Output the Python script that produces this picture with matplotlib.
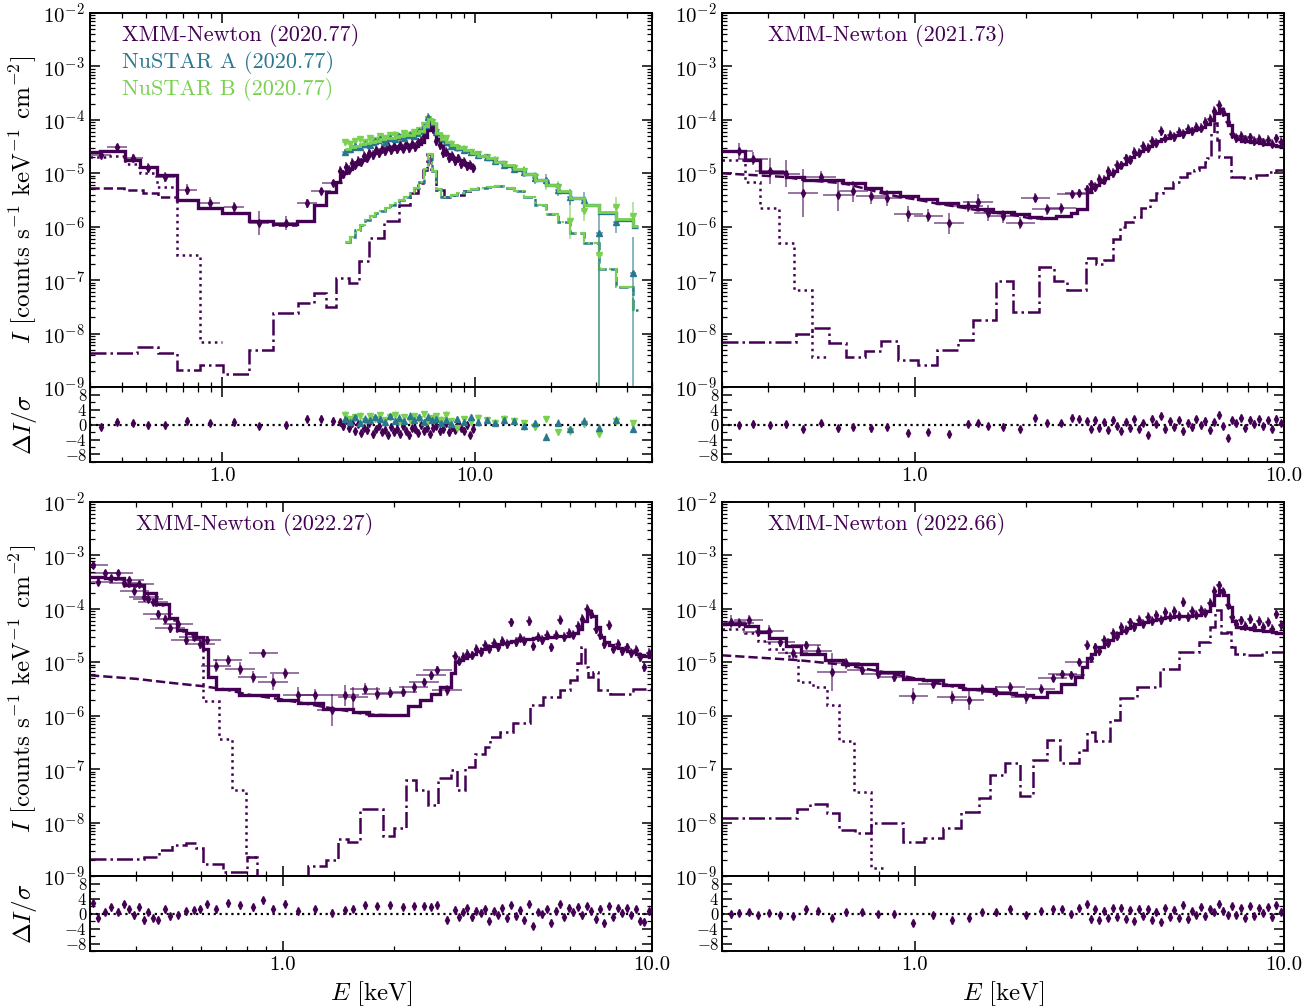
import numpy as np
import matplotlib.pyplot as plt
from matplotlib.ticker import LogLocator, FuncFormatter, NullFormatter, MultipleLocator, FixedLocator
from matplotlib.colors import to_rgba

plt.rcParams['font.family'] = 'serif'
plt.rcParams['font.serif'] = ['cmr10']
plt.rcParams['mathtext.fontset'] = 'cm'
plt.rcParams['axes.formatter.use_mathtext'] = True

# =====================================================
# Data
# =====================================================

c_xmm = '#440154'
c_nua = '#2a788e'
c_nub = '#7ad151'

# shared XMM energy grid for the dense part of the spectra (keV)
xmm_dense_e = [2.92, 3.0, 3.08, 3.16, 3.25, 3.34, 3.43, 3.52, 3.62, 3.72, 3.82, 3.93, 4.04, 4.15, 4.27,
               4.39, 4.51, 4.64, 4.77, 4.9, 5.04, 5.18, 5.33, 5.48, 5.63, 5.79, 5.95, 6.12, 6.29, 6.47,
               6.65, 6.84, 7.03, 7.23, 7.43, 7.64, 7.86, 8.08, 8.31, 8.54, 8.78, 9.03, 9.28, 9.54, 9.81]

# ---------- 2020.77 (XMM + NuSTAR) ----------
tl_sp_e = [0.331, 0.383, 0.443, 0.509, 0.594, 0.726, 0.896, 1.116, 1.40, 1.78, 2.17, 2.45, 2.73]
tl_sp_i = [2.2e-5, 3.1e-5, 1.9e-5, 1.26e-5, 8.5e-6, 4.9e-6, 2.8e-6, 2.3e-6, 1.17e-6, 1.17e-6, 2.75e-6, 4.7e-6, 6.6e-6]
tl_sp_err = [0.08, 0.06, 0.08, 0.1, 0.1, 0.1, 0.1, 0.1, 0.23, 0.13, 0.08, 0.06, 0.05]
tl_sp_res = [-0.6, 0.8, 0.4, -0.2, -0.2, 1.0, 0.4, 0.6, -0.4, 0.0, 1.6, 1.6, 1.0]
tl_de_i = [1.1e-5, 9.5e-6, 1.3e-5, 1.15e-5, 1.55e-5, 1.4e-5, 1.7e-5, 1.6e-5, 2.1e-5, 1.9e-5, 2.4e-5, 2.2e-5,
           2.7e-5, 2.4e-5, 2.9e-5, 2.6e-5, 3.2e-5, 2.7e-5, 3.3e-5, 2.8e-5, 3.4e-5, 2.9e-5, 3.5e-5, 3.0e-5,
           3.6e-5, 3.1e-5, 3.8e-5, 4.1e-5, 5.0e-5, 7.0e-5, 9.0e-5, 6.8e-5, 4.0e-5, 3.4e-5, 2.4e-5, 2.5e-5,
           1.9e-5, 2.1e-5, 1.7e-5, 1.9e-5, 1.5e-5, 1.65e-5, 1.35e-5, 1.45e-5, 1.25e-5]
tl_de_res = [0.8, -0.5, 1.2, -1.0, 0.5, -1.8, 0.2, -2.2, -0.8, -1.5, 0.4, -2.6, -1.2, -0.3, -2.0, -1.4, -2.8,
             -0.6, -1.9, -1.1, -2.4, -0.4, -1.6, -2.9, -0.9, -1.3, -2.2, -0.2, -1.7, -0.8, -2.5, -1.0, -0.3,
             -1.8, -1.2, 0.3, -2.1, -0.7, -1.4, 0.5, -0.9, -1.6, -0.2, -2.8, -1.1]
tl_mod_lo_e = [0.30, 0.33, 0.412, 0.473, 0.552, 0.663, 0.80, 1.0, 1.27, 1.59, 1.98, 2.30, 2.58, 2.81]
tl_mod_lo_v = [2.5e-5, 2.6e-5, 1.8e-5, 1.3e-5, 9.3e-6, 3.2e-6, 2.2e-6, 1.8e-6, 1.27e-6, 1.12e-6, 1.3e-6,
               2.6e-6, 4.5e-6, 6.9e-6]
tl_mod_de_v = [9.0e-6, 1.0e-5, 1.1e-5, 1.2e-5, 1.35e-5, 1.5e-5, 1.65e-5, 1.8e-5, 1.95e-5, 2.1e-5, 2.25e-5,
               2.4e-5, 2.5e-5, 2.6e-5, 2.7e-5, 2.8e-5, 2.85e-5, 2.9e-5, 2.95e-5, 3.0e-5, 3.05e-5, 3.1e-5,
               3.15e-5, 3.2e-5, 3.25e-5, 3.3e-5, 3.5e-5, 3.9e-5, 4.8e-5, 6.5e-5, 8.5e-5, 6.5e-5, 4.3e-5,
               3.2e-5, 2.6e-5, 2.3e-5, 2.1e-5, 1.95e-5, 1.85e-5, 1.75e-5, 1.65e-5, 1.55e-5, 1.45e-5, 1.38e-5, 1.3e-5]
tl_dot_e = [0.30, 0.347, 0.412, 0.473, 0.552, 0.663, 0.818, 1.0]
tl_dot_v = [2.0e-5, 2.1e-5, 1.5e-5, 1.0e-5, 5.5e-6, 3.0e-7, 7.0e-9, 1e-11]
tl_dash_e = [0.30, 0.41, 0.486, 0.557, 0.663, 0.80, 1.0, 1.27, 1.59, 1.98]
tl_dash_v = [5.2e-6, 4.9e-6, 4.3e-6, 3.6e-6, 3.1e-6, 2.2e-6, 1.8e-6, 1.27e-6, 1.1e-6, 1.0e-6]
tl_dd_e = [0.30, 0.46, 0.557, 0.66, 0.818, 1.01, 1.27, 1.59, 2.0, 2.3, 2.56, 2.81, 3.16, 3.46, 3.8, 4.36,
           5.0, 5.5, 5.94, 6.2, 6.45, 6.7, 7.0, 7.5, 8.2, 9.0]
tl_dd_v = [4.3e-9, 5.6e-9, 4.3e-9, 2.1e-9, 2.6e-9, 1.75e-9, 4.9e-9, 2.4e-8, 3.7e-8, 5.7e-8, 3.2e-8, 1.1e-7,
           9e-8, 2.3e-7, 6.2e-7, 1.3e-6, 2.5e-6, 4.2e-6, 6.6e-6, 1.15e-5, 2.3e-5, 1.1e-5, 4.9e-6, 3.6e-6,
           4.0e-6, 4.6e-6]

nu_e = [3.05, 3.2, 3.35, 3.5, 3.66, 3.83, 4.0, 4.2, 4.4, 4.6, 4.8, 5.0, 5.25, 5.5, 5.75, 6.0, 6.25, 6.5,
        6.75, 7.0, 7.3, 7.65, 8.0, 8.5, 9.0, 9.6, 10.3, 11.1, 12.0, 13.0, 14.2, 15.6, 17.2, 19.0, 21.2,
        23.8, 27.0, 31.0, 36.0, 42.0]
nua_i = [2.5e-5, 2.9e-5, 3.3e-5, 3.1e-5, 3.6e-5, 3.4e-5, 4.0e-5, 4.3e-5, 3.9e-5, 4.6e-5, 4.3e-5, 4.9e-5,
         4.6e-5, 5.3e-5, 5.0e-5, 6.3e-5, 7.2e-5, 1.15e-4, 8.0e-5, 5.8e-5, 4.3e-5, 3.8e-5, 3.2e-5, 3.1e-5,
         2.7e-5, 2.5e-5, 2.2e-5, 2.0e-5, 1.7e-5, 1.4e-5, 1.2e-5, 1.05e-5, 8.0e-6, 7.5e-6, 4.9e-6, 3.6e-6,
         3.2e-6, 7.6e-7, 1.2e-6, 1.35e-7]
nua_lo = [0.06] * 30 + [0.08, 0.1, 0.1, 0.12, 0.12, 0.15, 0.15, 3.0, 0.2, 3.0]
nua_hi = [0.06] * 30 + [0.08, 0.1, 0.1, 0.12, 0.12, 0.15, 0.15, 0.37, 0.2, 0.68]
nua_mod = [2.6e-5, 2.8e-5, 3.0e-5, 3.2e-5, 3.4e-5, 3.6e-5, 3.8e-5, 4.0e-5, 4.2e-5, 4.3e-5, 4.5e-5, 4.6e-5,
           4.8e-5, 5.0e-5, 5.3e-5, 5.9e-5, 7.5e-5, 1.0e-4, 8.5e-5, 5.5e-5, 4.2e-5, 3.6e-5, 3.3e-5, 2.9e-5,
           2.6e-5, 2.35e-5, 2.1e-5, 1.85e-5, 1.6e-5, 1.35e-5, 1.15e-5, 9.5e-6, 7.5e-6, 6.0e-6, 4.5e-6,
           3.4e-6, 2.5e-6, 1.8e-6, 1.35e-6, 1.0e-6]
nua_res = [1.5, 0.8, 1.9, 0.5, 1.6, 1.2, 2.0, 1.4, 0.6, 2.2, 1.0, 1.8, 0.9, 2.4, 1.3, 1.9, 0.7, 2.1, 1.2,
           1.6, 0.5, 1.1, 0.2, 1.4, 0.8, 1.9, 0.6, 1.2, 0.4, 1.1, 0.9, -0.5, 0.3, -3.2, 0.5, -1.2, 1.0,
           -0.8, 1.3, -1.2]
nub_i = [3.8e-5, 3.6e-5, 4.0e-5, 4.4e-5, 3.9e-5, 4.6e-5, 4.2e-5, 4.9e-5, 4.6e-5, 5.1e-5, 5.3e-5, 4.8e-5,
         5.6e-5, 5.2e-5, 6.0e-5, 6.5e-5, 8.0e-5, 1.05e-4, 9.0e-5, 6.0e-5, 4.6e-5, 4.5e-5, 3.6e-5, 3.0e-5,
         2.9e-5, 2.5e-5, 2.3e-5, 2.0e-5, 1.8e-5, 1.5e-5, 1.25e-5, 1.1e-5, 8.5e-6, 6.5e-6, 5.5e-6, 1.3e-6,
         2.0e-6, 3.0e-7, 2.3e-6, 1.6e-6]
nub_lo = [0.06] * 30 + [0.08, 0.1, 0.1, 0.12, 0.12, 0.35, 0.2, 3.0, 0.2, 0.25]
nub_hi = [0.06] * 30 + [0.08, 0.1, 0.1, 0.12, 0.12, 0.35, 0.2, 0.45, 0.2, 0.25]
nub_mod = [2.9e-5, 3.1e-5, 3.3e-5, 3.5e-5, 3.7e-5, 3.9e-5, 4.1e-5, 4.3e-5, 4.5e-5, 4.6e-5, 4.8e-5, 4.9e-5,
           5.1e-5, 5.3e-5, 5.6e-5, 6.2e-5, 7.8e-5, 1.02e-4, 8.7e-5, 5.7e-5, 4.4e-5, 3.8e-5, 3.4e-5, 3.0e-5,
           2.7e-5, 2.4e-5, 2.15e-5, 1.9e-5, 1.65e-5, 1.4e-5, 1.18e-5, 9.7e-6, 7.6e-6, 6.1e-6, 4.6e-6,
           3.5e-6, 2.6e-6, 1.85e-6, 1.4e-6, 1.05e-6]
nub_res = [2.6, 1.4, 2.0, 2.4, 1.0, 2.2, 1.6, 2.5, 1.2, 2.0, 2.6, 0.8, 1.9, 1.1, 2.3, 1.5, 2.8, 1.0, 1.7,
           2.2, 1.3, 2.6, 0.9, -1.0, 1.5, 0.6, 1.8, 1.2, 0.5, 1.6, 1.0, 0.3, -0.6, 1.5, -2.0, -1.8, 0.2,
           -2.5, 0.9, 0.3]
nu_comp = [5.1e-7, 6.5e-7, 8.5e-7, 1.1e-6, 1.35e-6, 1.6e-6, 1.8e-6, 2.0e-6, 2.2e-6, 2.5e-6, 2.8e-6, 3.1e-6,
           3.6e-6, 4.3e-6, 5.3e-6, 7e-6, 1.2e-5, 2.3e-5, 1.1e-5, 5.0e-6, 3.6e-6, 3.6e-6, 3.9e-6, 4.3e-6,
           4.7e-6, 5.0e-6, 5.3e-6, 5.6e-6, 5.7e-6, 5.4e-6, 4.6e-6, 3.6e-6, 2.6e-6, 1.7e-6, 1.2e-6, 7.5e-7,
           5.0e-7, 1.6e-7, 7.4e-8, 2.8e-8]

# ---------- 2021.73 ----------
tr_sp_e = [0.333, 0.364, 0.404, 0.446, 0.497, 0.556, 0.617, 0.681, 0.759, 0.842, 0.96, 1.087, 1.236, 1.39,
           1.48, 1.58, 1.73, 1.93, 2.12, 2.28, 2.49, 2.66, 2.79]
tr_sp_i = [2.6e-5, 1.86e-5, 1.1e-5, 9.8e-6, 4.3e-6, 8.7e-6, 4.0e-6, 4.6e-6, 3.7e-6, 3.5e-6, 1.74e-6, 1.6e-6,
           1.15e-6, 2.4e-6, 2.9e-6, 1.8e-6, 1.56e-6, 1.17e-6, 3.5e-6, 2.1e-6, 2.2e-6, 4.1e-6, 4.3e-6]
tr_sp_err = [0.15, 0.12, 0.25, 0.25, 0.45, 0.1, 0.3, 0.2, 0.15, 0.15, 0.15, 0.12, 0.2, 0.1, 0.15, 0.15,
             0.12, 0.12, 0.08, 0.1, 0.1, 0.07, 0.07]
tr_sp_res = [-0.2, 0.2, -0.1, 0.1, -1.2, 0.4, -1.0, -0.6, -1.0, -0.6, -2.2, -2.0, -2.4, 0.2, 0.4, -0.4,
             -0.6, -1.2, 1.8, 0.4, 0.4, 1.8, 1.6]
tr_de_i = [5.0e-6, 6.2e-6, 5.6e-6, 7.8e-6, 7.4e-6, 1.1e-5, 1.0e-5, 1.45e-5, 1.4e-5, 1.9e-5, 1.8e-5, 2.5e-5,
           2.4e-5, 3.3e-5, 3.0e-5, 4.0e-5, 3.7e-5, 6.2e-5, 4.5e-5, 5.3e-5, 4.8e-5, 6.0e-5, 5.5e-5, 6.8e-5,
           6.1e-5, 7.5e-5, 7.0e-5, 9.0e-5, 1.05e-4, 1.45e-4, 1.9e-4, 1.4e-4, 9.0e-5, 5.4e-5, 4.6e-5, 5.0e-5,
           4.3e-5, 4.7e-5, 4.0e-5, 4.4e-5, 3.8e-5, 4.2e-5, 3.6e-5, 4.5e-5, 3.9e-5]
tr_de_res = [0.9, -1.2, 1.1, -0.8, 0.6, -1.4, 1.3, -0.3, -1.6, 0.8, -0.9, 1.5, -1.1, 0.4, -2.8, 1.6, 0.2,
             2.4, -1.3, 0.9, -0.6, 1.2, -1.8, 0.5, -0.7, 1.4, -0.2, 1.0, -1.5, 0.7, 2.6, -0.4, -3.5, 1.1,
             0.3, 1.8, -0.8, 1.3, 0.2, 1.5, -0.5, 1.1, -1.2, 1.6, 0.4]
tr_mod_lo_e = [0.30, 0.347, 0.38, 0.446, 0.50, 0.64, 0.73, 0.81, 0.91, 1.02, 1.15, 1.31, 1.47, 1.63, 1.86,
               2.04, 2.2, 2.41, 2.64, 2.75]
tr_mod_lo_v = [2.6e-5, 1.75e-5, 1.05e-5, 8.7e-6, 7.6e-6, 6.6e-6, 5.3e-6, 4.4e-6, 3.7e-6, 3.3e-6, 2.8e-6,
               2.4e-6, 2.1e-6, 1.9e-6, 1.7e-6, 1.5e-6, 1.45e-6, 1.6e-6, 1.8e-6, 2.1e-6]
tr_mod_de_v = [4.5e-6, 5.2e-6, 6.0e-6, 7.0e-6, 8.2e-6, 9.6e-6, 1.1e-5, 1.3e-5, 1.5e-5, 1.7e-5, 2.0e-5,
               2.3e-5, 2.6e-5, 2.9e-5, 3.2e-5, 3.6e-5, 4.0e-5, 4.3e-5, 4.6e-5, 4.9e-5, 5.2e-5, 5.5e-5,
               5.8e-5, 6.1e-5, 6.4e-5, 6.8e-5, 7.4e-5, 8.3e-5, 1.0e-4, 1.35e-4, 1.6e-4, 1.3e-4, 8.0e-5,
               5.0e-5, 4.3e-5, 4.1e-5, 4.0e-5, 3.9e-5, 3.8e-5, 3.7e-5, 3.6e-5, 3.5e-5, 3.4e-5, 3.3e-5, 3.2e-5]
tr_dot_e = [0.30, 0.347, 0.381, 0.428, 0.469, 0.527, 0.585]
tr_dot_v = [1.8e-5, 7.0e-6, 2.2e-6, 5.0e-7, 6.6e-8, 3.7e-9, 1e-11]
tr_dash_e = [0.30, 0.45, 0.50, 0.64, 0.73, 0.81, 0.91, 1.02, 1.15, 1.31, 1.47, 1.63, 1.86, 2.04, 2.2]
tr_dash_v = [1.0e-5, 8.5e-6, 7.5e-6, 6.5e-6, 5.2e-6, 4.3e-6, 3.6e-6, 3.2e-6, 2.7e-6, 2.35e-6, 2.05e-6,
             1.85e-6, 1.65e-6, 1.45e-6, 1.42e-6]
tr_dd_e = [0.30, 0.475, 0.527, 0.585, 0.649, 0.73, 0.81, 0.898, 1.02, 1.15, 1.31, 1.44, 1.66, 1.84, 2.17,
           2.38, 2.58, 2.90, 3.09, 3.25, 3.45, 3.59, 3.7, 3.9, 4.1, 4.33, 4.5, 4.7, 5.0, 5.22, 5.45, 5.7,
           5.9, 6.1, 6.2, 6.33, 6.45, 6.57, 6.65, 7.05, 7.2, 7.8, 8.4, 9.0, 9.5]
tr_dd_v = [6.9e-9, 1.0e-8, 1.26e-8, 6.7e-9, 3.7e-9, 4.7e-9, 7.4e-9, 3.2e-9, 2.6e-9, 5e-9, 7.7e-9, 1.8e-8,
           9.5e-8, 2.5e-8, 1.8e-7, 9.5e-8, 6.6e-8, 2.6e-7, 2.0e-7, 2.4e-7, 6.0e-7, 9.8e-7, 1.2e-6, 1.5e-6,
           2.2e-6, 3.2e-6, 4.2e-6, 5.2e-6, 6.8e-6, 8.5e-6, 1.0e-5, 1.15e-5, 1.3e-5, 1.6e-5, 1.9e-5, 5.6e-5,
           8.7e-5, 4.2e-5, 2.0e-5, 2.0e-5, 8.5e-6, 8.1e-6, 9.3e-6, 1.05e-5, 1.15e-5]

# ---------- 2022.27 ----------
bl_sp_e = [0.306, 0.316, 0.330, 0.342, 0.358, 0.370, 0.383, 0.396, 0.408, 0.420, 0.431, 0.445, 0.459,
           0.478, 0.494, 0.520, 0.545, 0.574, 0.597, 0.621, 0.658, 0.708, 0.766, 0.828, 0.885, 0.940,
           1.01, 1.10, 1.22, 1.36, 1.47, 1.55, 1.67, 1.80, 1.95, 2.11, 2.26, 2.41, 2.52, 2.62, 2.78]
bl_sp_i = [6.5e-4, 3.2e-4, 4.7e-4, 3.8e-4, 4.7e-4, 3.1e-4, 3.4e-4, 2.2e-4, 2.95e-4, 1.66e-4, 1.55e-4,
           1.34e-4, 8.1e-5, 6.5e-5, 4.3e-5, 5.3e-5, 2.6e-5, 2.95e-5, 2.2e-5, 2.6e-5, 8.7e-6, 1.1e-5, 7.6e-6,
           5.3e-6, 1.5e-5, 4.3e-6, 6.2e-6, 2.4e-6, 2.4e-6, 1.26e-6, 2.4e-6, 2.2e-6, 3.2e-6, 2.6e-6, 2.7e-6,
           2.8e-6, 3.4e-6, 4.3e-6, 5.7e-6, 7.3e-6, 3.0e-6]
bl_sp_err = [0.06, 0.06, 0.05, 0.05, 0.05, 0.06, 0.05, 0.06, 0.05, 0.06, 0.06, 0.06, 0.07, 0.07, 0.08,
             0.07, 0.1, 0.08, 0.1, 0.08, 0.12, 0.1, 0.12, 0.12, 0.08, 0.15, 0.1, 0.15, 0.12, 0.3, 0.2,
             0.2, 0.1, 0.12, 0.1, 0.1, 0.1, 0.08, 0.08, 0.07, 0.1]
bl_sp_res = [2.9, -1.2, 0.4, 1.7, 0.5, 2.5, 1.1, -0.5, 1.8, -1.8, 0.4, -1.2, -1.6, 1.1, -0.7, -0.3, 0.6,
             0.9, 1.1, 2.5, 1.1, 2.7, 2.2, 1.7, 3.5, 1.3, 2.6, 0.6, 1.1, 0.2, 0.9, 1.3, 2.2, 2.0, 2.2,
             1.8, 2.0, 2.0, 1.8, 2.2, -1.6]
bl_de_i = [1.3e-5, 1.05e-5, 1.25e-5, 1.45e-5, 1.35e-5, 1.75e-5, 1.55e-5, 2.1e-5, 1.8e-5, 2.3e-5, 1.9e-5,
           2.5e-5, 2.2e-5, 5.6e-5, 2.4e-5, 2.9e-5, 2.5e-5, 6.0e-5, 2.0e-5, 3.0e-5, 2.6e-5, 3.2e-5, 1.9e-5,
           3.3e-5, 6.3e-5, 3.0e-5, 3.6e-5, 3.3e-5, 4.8e-5, 6.5e-5, 1.0e-4, 8.0e-5, 4.2e-5, 3.2e-5, 2.2e-5,
           5.0e-5, 1.8e-5, 2.2e-5, 1.6e-5, 1.9e-5, 1.5e-5, 1.7e-5, 1.25e-5, 8.1e-6, 1.5e-5]
bl_de_res = [1.0, -0.8, 0.5, 1.5, -1.0, 0.8, 0.2, 1.2, -2.0, 0.6, -0.4, 1.4, -1.3, 2.3, -0.6, 0.9, -1.8,
             2.6, -3.3, 0.4, -0.2, 1.2, -2.4, 0.8, 2.5, -0.9, 1.6, 0.3, 1.8, -0.5, 2.0, 0.7, -1.5, 1.3,
             -2.6, 1.9, -0.8, 1.5, 0.2, 1.4, -0.4, 1.2, -1.9, -2.2, 0.6]
bl_mod_lo_e = [0.30, 0.33, 0.37, 0.42, 0.454, 0.49, 0.515, 0.545, 0.58, 0.606, 0.626, 0.66, 0.76, 0.97,
               1.1, 1.28, 1.55, 1.71, 2.18, 2.35, 2.52, 2.66, 2.85]
bl_mod_lo_v = [4.0e-4, 3.7e-4, 2.75e-4, 2.0e-4, 1.25e-4, 6.6e-5, 4.0e-5, 3.5e-5, 3.0e-5, 1.8e-5, 5.4e-6,
               3.2e-6, 2.4e-6, 1.95e-6, 1.7e-6, 1.35e-6, 1.17e-6, 1.02e-6, 1.5e-6, 1.95e-6, 2.6e-6, 3.5e-6,
               6.2e-6]
bl_mod_de_v = [1.0e-5, 1.1e-5, 1.2e-5, 1.3e-5, 1.45e-5, 1.6e-5, 1.75e-5, 1.9e-5, 2.0e-5, 2.1e-5, 2.2e-5,
               2.3e-5, 2.4e-5, 2.5e-5, 2.6e-5, 2.65e-5, 2.7e-5, 2.75e-5, 2.8e-5, 2.85e-5, 2.9e-5, 2.95e-5,
               3.0e-5, 3.05e-5, 3.1e-5, 3.15e-5, 3.25e-5, 3.5e-5, 4.2e-5, 6.0e-5, 9.0e-5, 7.5e-5, 4.5e-5,
               3.0e-5, 2.4e-5, 2.1e-5, 1.95e-5, 1.85e-5, 1.75e-5, 1.65e-5, 1.55e-5, 1.45e-5, 1.38e-5,
               1.3e-5, 1.25e-5]
bl_dot_e = [0.30, 0.33, 0.37, 0.42, 0.454, 0.49, 0.515, 0.545, 0.58, 0.607, 0.671, 0.726, 0.796, 0.85]
bl_dot_v = [3.9e-4, 3.6e-4, 2.7e-4, 1.95e-4, 1.2e-4, 6.3e-5, 3.8e-5, 3.3e-5, 2.8e-5, 1.9e-6, 3.7e-7,
            4.0e-8, 2.3e-9, 1e-11]
bl_dash_e = [0.30, 0.4, 0.5, 0.6, 0.7, 0.8, 1.0, 1.3, 1.7, 2.18]
bl_dash_v = [5.7e-6, 4.9e-6, 4.1e-6, 3.6e-6, 3.1e-6, 2.5e-6, 2.0e-6, 1.45e-6, 1.05e-6, 1.0e-6]
bl_dd_e = [0.30, 0.42, 0.46, 0.50, 0.545, 0.58, 0.606, 0.69, 0.80, 0.85, 1.17, 1.31, 1.41, 1.5, 1.62,
           1.87, 2.0, 2.16, 2.29, 2.47, 2.63, 2.86, 2.97, 3.12, 3.31, 3.53, 3.64, 3.87, 4.2, 4.67, 5.07,
           5.63, 6.0, 6.27, 6.43, 6.58, 6.7, 6.92, 7.14, 7.69, 8.9]
bl_dd_v = [2.1e-9, 2.3e-9, 3.1e-9, 3.8e-9, 4.1e-9, 3.3e-9, 1.7e-9, 1.2e-9, 2.3e-9, 1e-10, 1.55e-9, 2.0e-9,
           5.0e-9, 4.3e-9, 1.8e-8, 5.6e-9, 7.8e-9, 6.2e-8, 4.1e-8, 2.1e-8, 6.8e-8, 9.6e-8, 4.1e-8, 1.1e-7,
           1.95e-7, 2.6e-7, 4.0e-7, 4.9e-7, 7.2e-7, 1.6e-6, 2.2e-6, 3.0e-6, 4.7e-6, 9.6e-6, 1.9e-5,
           8.2e-6, 5.3e-6, 6.6e-6, 3.0e-6, 2.5e-6, 3.1e-6]

# ---------- 2022.66 ----------
br_sp_e = [0.318, 0.334, 0.354, 0.376, 0.403, 0.432, 0.467, 0.507, 0.545, 0.596, 0.649, 0.718, 0.793,
           0.879, 0.99, 1.12, 1.26, 1.40, 1.52, 1.66, 1.81, 2.0, 2.19, 2.36, 2.51, 2.64, 2.79]
br_sp_i = [5.7e-5, 5.4e-5, 6.1e-5, 3.7e-5, 3.9e-5, 2.4e-5, 1.5e-5, 2.1e-5, 1.66e-5, 6.6e-6, 9.6e-6, 7.3e-6,
           6.1e-6, 5.3e-6, 2.3e-6, 4.0e-6, 2.2e-6, 2.0e-6, 3.1e-6, 2.8e-6, 3.5e-6, 2.2e-6, 3.2e-6, 5.1e-6,
           6.1e-6, 5.8e-6, 1.02e-5]
br_sp_err = [0.12, 0.1, 0.1, 0.1, 0.1, 0.1, 0.12, 0.08, 0.1, 0.35, 0.1, 0.1, 0.1, 0.1, 0.15, 0.08, 0.12,
             0.2, 0.1, 0.1, 0.08, 0.12, 0.08, 0.07, 0.07, 0.07, 0.07]
br_sp_res = [-0.2, 0.2, 0.4, -0.5, 0.2, -0.5, -0.6, 1.1, 0.7, -1.1, 0.3, 0.3, -0.2, 0.0, -2.4, -0.5, -1.8,
             -1.1, 0.3, 0.3, 1.1, -0.5, 0.7, 1.1, 1.1, -0.2, 1.4]
br_de_i = [2.1e-5, 1.2e-5, 1.9e-5, 1.6e-5, 2.6e-5, 2.3e-5, 3.5e-5, 3.1e-5, 4.6e-5, 4.0e-5, 5.6e-5, 4.6e-5,
           6.3e-5, 5.3e-5, 7.1e-5, 6.0e-5, 7.8e-5, 6.2e-5, 8.7e-5, 7.0e-5, 9.0e-5, 7.4e-5, 1.35e-4, 7.0e-5,
           9.3e-5, 7.8e-5, 9.6e-5, 8.5e-5, 1.3e-4, 2.2e-4, 2.75e-4, 2.1e-4, 1.2e-4, 7.0e-5, 5.3e-5, 6.1e-5,
           4.8e-5, 6.5e-5, 4.5e-5, 6.0e-5, 4.6e-5, 5.7e-5, 4.2e-5, 8.0e-5, 5.0e-5]
br_de_res = [2.5, -1.5, 1.2, -1.8, 0.8, -1.2, 1.4, -0.9, 1.6, -1.4, 0.9, -2.0, 1.3, -0.6, 1.1, -1.7, 0.5,
             -2.3, 1.5, -0.8, 1.0, -1.1, 2.4, -1.5, 0.7, -0.4, 1.8, -0.7, 1.2, 0.3, 2.6, 0.8, -0.5, 1.9,
             -0.3, 1.4, -1.2, 2.0, -0.6, 1.5, 0.2, 1.7, -1.0, 2.2, 0.5]
br_mod_lo_e = [0.30, 0.347, 0.376, 0.403, 0.447, 0.49, 0.57, 0.64, 0.79, 0.93, 1.05, 1.19, 1.35, 1.64,
               1.88, 2.09, 2.28, 2.48, 2.72, 2.84]
br_mod_lo_v = [5.3e-5, 4.7e-5, 3.7e-5, 2.9e-5, 2.0e-5, 1.4e-5, 1.1e-5, 9.1e-6, 6.6e-6, 4.9e-6, 4.6e-6,
               3.7e-6, 3.2e-6, 2.7e-6, 2.4e-6, 2.2e-6, 2.8e-6, 4.0e-6, 5.4e-6, 8.1e-6]
br_mod_de_v = [1.2e-5, 1.4e-5, 1.65e-5, 1.9e-5, 2.2e-5, 2.6e-5, 3.0e-5, 3.5e-5, 3.9e-5, 4.3e-5, 4.7e-5,
               5.1e-5, 5.4e-5, 5.7e-5, 6.0e-5, 6.3e-5, 6.5e-5, 6.7e-5, 6.9e-5, 7.0e-5, 7.2e-5, 7.3e-5,
               7.4e-5, 7.5e-5, 7.6e-5, 7.8e-5, 8.2e-5, 9.2e-5, 1.2e-4, 1.8e-4, 2.3e-4, 1.8e-4, 1.1e-4,
               6.0e-5, 4.6e-5, 4.4e-5, 4.3e-5, 4.2e-5, 4.1e-5, 4.0e-5, 3.9e-5, 3.8e-5, 3.7e-5, 3.6e-5, 3.5e-5]
br_dot_e = [0.30, 0.347, 0.376, 0.403, 0.447, 0.481, 0.53, 0.578, 0.624, 0.684, 0.759, 0.832]
br_dot_v = [4.2e-5, 3.5e-5, 2.5e-5, 1.8e-5, 1.3e-5, 4.3e-6, 3.5e-6, 1.6e-6, 3.4e-7, 3.7e-8, 1.4e-9, 1e-11]
br_dash_e = [0.30, 0.48, 0.64, 0.8, 1.0, 1.3, 1.6, 2.0]
br_dash_v = [1.35e-5, 1.1e-5, 9.0e-6, 6.8e-6, 5.0e-6, 3.4e-6, 2.8e-6, 2.3e-6]
br_dd_e = [0.30, 0.48, 0.52, 0.578, 0.624, 0.69, 0.759, 0.93, 1.06, 1.19, 1.33, 1.49, 1.6, 1.75, 1.92,
           2.09, 2.28, 2.47, 2.79, 2.93, 3.08, 3.38, 3.6, 4.0, 4.6, 5.2, 5.9, 6.3, 6.5, 6.74, 7.0, 7.2,
           7.35, 7.8, 8.7]
br_dd_v = [1.2e-8, 1.8e-8, 2.2e-8, 1.5e-8, 7.2e-9, 6.4e-9, 1.0e-8, 4.3e-9, 5.2e-9, 7.8e-9, 1.6e-8, 2.9e-8,
           7.8e-8, 1.3e-7, 3.2e-8, 1.5e-7, 3.5e-7, 1.3e-7, 2.3e-7, 5.0e-7, 3.3e-7, 8.3e-7, 2.1e-6, 3.5e-6,
           7.6e-6, 1.55e-5, 2.4e-5, 4.6e-5, 9.4e-5, 3.5e-5, 3.7e-5, 1.9e-5, 1.45e-5, 1.35e-5, 1.55e-5]

# =====================================================
# Helpers
# =====================================================

def data_points(ax, e, i, lo, hi, xh, color, marker, ms=4):
    e = np.asarray(e)
    i = np.asarray(i)
    lo = np.asarray(lo, dtype=float)
    hi = np.asarray(hi, dtype=float)
    yerr = [i * (1 - 10 ** (-lo)), i * (10 ** hi - 1)]
    xerr = [e * (1 - 10 ** (-xh)), e * (10 ** xh - 1)]
    ax.errorbar(e, i, xerr=xerr, yerr=yerr, fmt=marker, color=color, ms=ms,
                ecolor=to_rgba(color, 0.55), elinewidth=1.4, capsize=0, zorder=3)


def steps(ax, e, v, end, color, ls='-', lw=1.8, zorder=2):
    ax.stairs(v, list(e) + [end], baseline=None, color=color, ls=ls, lw=lw, zorder=zorder)


def resid(rax, e, r, color, marker, ms=4):
    rax.errorbar(e, r, yerr=0.9, fmt=marker, color=color, ms=ms, ecolor=color,
                 elinewidth=1.0, capsize=0, zorder=3)


def style(ax, rax, xmax, left):
    for a in (ax, rax):
        a.set_xscale('log')
        a.set_xlim(0.3, xmax)
        a.tick_params(which='both', direction='in', top=True, right=True, labelsize=15)
        a.tick_params(which='major', length=7, width=1.1)
        a.tick_params(which='minor', length=3.5, width=0.9)
        a.xaxis.set_major_locator(FixedLocator([1.0, 10.0]))
        a.xaxis.set_minor_locator(LogLocator(base=10, subs=np.arange(2, 10), numticks=20))
        a.xaxis.set_minor_formatter(NullFormatter())
        for s in a.spines.values():
            s.set_linewidth(1.4)
    ax.set_yscale('log')
    ax.set_ylim(1e-9, 1e-2)
    ax.yaxis.set_major_locator(LogLocator(base=10, numticks=20))
    ax.yaxis.set_minor_locator(LogLocator(base=10, subs=np.arange(2, 10), numticks=20))
    ax.yaxis.set_minor_formatter(NullFormatter())
    ax.tick_params(axis='x', labelbottom=False)
    rax.set_ylim(-10, 10)
    rax.yaxis.set_major_locator(FixedLocator([-8, -4, 0, 4, 8]))
    rax.yaxis.set_minor_locator(MultipleLocator(2))
    rax.tick_params(axis='y', labelsize=12, pad=2)
    rax.xaxis.set_major_formatter(FuncFormatter(lambda v, p: '%.1f' % v))
    rax.axhline(0, color='black', ls=':', lw=1.6, zorder=1)
    if left:
        ax.set_ylabel(r'$I$ [counts s$^{-1}$ keV$^{-1}$ cm$^{-2}$]', fontsize=18)
        rax.set_ylabel(r'$\Delta I/\sigma$', fontsize=18)
        ax.yaxis.set_label_coords(-0.09, 0.5)
        rax.yaxis.set_label_coords(-0.09, 0.5)


def xmm_panel(ax, rax, sp_e, sp_i, sp_err, sp_res, de_i, de_res, lo_e, lo_v, de_v,
              dot_e, dot_v, dash_e, dash_v, dd_e, dd_v, dd_end, dash_steps):
    data_points(ax, sp_e, sp_i, sp_err, sp_err, 0.04, c_xmm, 'd')
    data_points(ax, xmm_dense_e, de_i, [0.09] * len(de_i), [0.09] * len(de_i), 0.007, c_xmm, 'd')
    steps(ax, lo_e + xmm_dense_e, lo_v + de_v, 10.0, c_xmm, '-', 2.4, 4)
    steps(ax, dot_e[:-1], dot_v[:-1], dot_e[-1], c_xmm, ':', 1.8)
    if dash_steps:
        steps(ax, dash_e[:-1], dash_v[:-1], dash_e[-1], c_xmm, '--', 1.8)
    else:
        ax.plot(dash_e, dash_v, color=c_xmm, ls='--', lw=1.8, zorder=2)
    steps(ax, dd_e, dd_v, dd_end, c_xmm, '-.', 1.8)
    resid(rax, sp_e, sp_res, c_xmm, 'd')
    resid(rax, xmm_dense_e, de_res, c_xmm, 'd')


# =====================================================
# Figure
# =====================================================

fig = plt.figure(figsize=(13.13, 10.08), dpi=100)

W = 562 / 1313
H = 374 / 1008
HR = 75 / 1008
xl, xr = 90 / 1313, 722 / 1313
yt, yb = 1 - 387 / 1008, 1 - 876 / 1008

ax_tl = fig.add_axes([xl, yt, W, H])
rx_tl = fig.add_axes([xl, yt - HR, W, HR])
ax_tr = fig.add_axes([xr, yt, W, H])
rx_tr = fig.add_axes([xr, yt - HR, W, HR])
ax_bl = fig.add_axes([xl, yb, W, H])
rx_bl = fig.add_axes([xl, yb - HR, W, HR])
ax_br = fig.add_axes([xr, yb, W, H])
rx_br = fig.add_axes([xr, yb - HR, W, HR])

# --- top left: XMM + NuSTAR ---
xmm_panel(ax_tl, rx_tl, tl_sp_e, tl_sp_i, tl_sp_err, tl_sp_res, tl_de_i, tl_de_res,
          tl_mod_lo_e, tl_mod_lo_v, tl_mod_de_v, tl_dot_e, tl_dot_v, tl_dash_e, tl_dash_v,
          tl_dd_e, tl_dd_v, 10.0, True)
steps(ax_tl, nu_e, nua_mod, 44.0, c_nua, '-', 2.4, 4)
steps(ax_tl, nu_e, nub_mod, 44.0, c_nub, '-', 2.0, 4)
steps(ax_tl, nu_e, nu_comp, 44.0, c_nua, '--', 1.8)
steps(ax_tl, nu_e, nu_comp, 44.0, c_nub, '-.', 1.6)
data_points(ax_tl, nu_e, nub_i, nub_lo, nub_hi, 0.012, c_nub, 'v', 4.5)
data_points(ax_tl, nu_e, nua_i, nua_lo, nua_hi, 0.012, c_nua, '^', 4.5)
resid(rx_tl, nu_e, nub_res, c_nub, 'v', 4.5)
resid(rx_tl, nu_e, nua_res, c_nua, '^', 4.5)
style(ax_tl, rx_tl, 50.0, True)
ax_tl.text(0.057, 0.94, 'XMM-Newton (2020.77)', color=c_xmm, fontsize=16,
           transform=ax_tl.transAxes, va='center')
ax_tl.text(0.057, 0.868, 'NuSTAR A (2020.77)', color=c_nua, fontsize=16,
           transform=ax_tl.transAxes, va='center')
ax_tl.text(0.057, 0.796, 'NuSTAR B (2020.77)', color=c_nub, fontsize=16,
           transform=ax_tl.transAxes, va='center')

# --- top right ---
xmm_panel(ax_tr, rx_tr, tr_sp_e, tr_sp_i, tr_sp_err, tr_sp_res, tr_de_i, tr_de_res,
          tr_mod_lo_e, tr_mod_lo_v, tr_mod_de_v, tr_dot_e, tr_dot_v, tr_dash_e, tr_dash_v,
          tr_dd_e, tr_dd_v, 10.0, False)
style(ax_tr, rx_tr, 10.0, False)
ax_tr.text(0.082, 0.94, 'XMM-Newton (2021.73)', color=c_xmm, fontsize=16,
           transform=ax_tr.transAxes, va='center')

# --- bottom left ---
xmm_panel(ax_bl, rx_bl, bl_sp_e, bl_sp_i, bl_sp_err, bl_sp_res, bl_de_i, bl_de_res,
          bl_mod_lo_e, bl_mod_lo_v, bl_mod_de_v, bl_dot_e, bl_dot_v, bl_dash_e, bl_dash_v,
          bl_dd_e, bl_dd_v, 10.0, False)
style(ax_bl, rx_bl, 10.0, True)
ax_bl.text(0.082, 0.94, 'XMM-Newton (2022.27)', color=c_xmm, fontsize=16,
           transform=ax_bl.transAxes, va='center')
rx_bl.set_xlabel(r'$E$ [keV]', fontsize=18)

# --- bottom right ---
xmm_panel(ax_br, rx_br, br_sp_e, br_sp_i, br_sp_err, br_sp_res, br_de_i, br_de_res,
          br_mod_lo_e, br_mod_lo_v, br_mod_de_v, br_dot_e, br_dot_v, br_dash_e, br_dash_v,
          br_dd_e, br_dd_v, 10.0, False)
style(ax_br, rx_br, 10.0, False)
ax_br.text(0.082, 0.94, 'XMM-Newton (2022.66)', color=c_xmm, fontsize=16,
           transform=ax_br.transAxes, va='center')
rx_br.set_xlabel(r'$E$ [keV]', fontsize=18)

plt.savefig('out.png', dpi=100)
